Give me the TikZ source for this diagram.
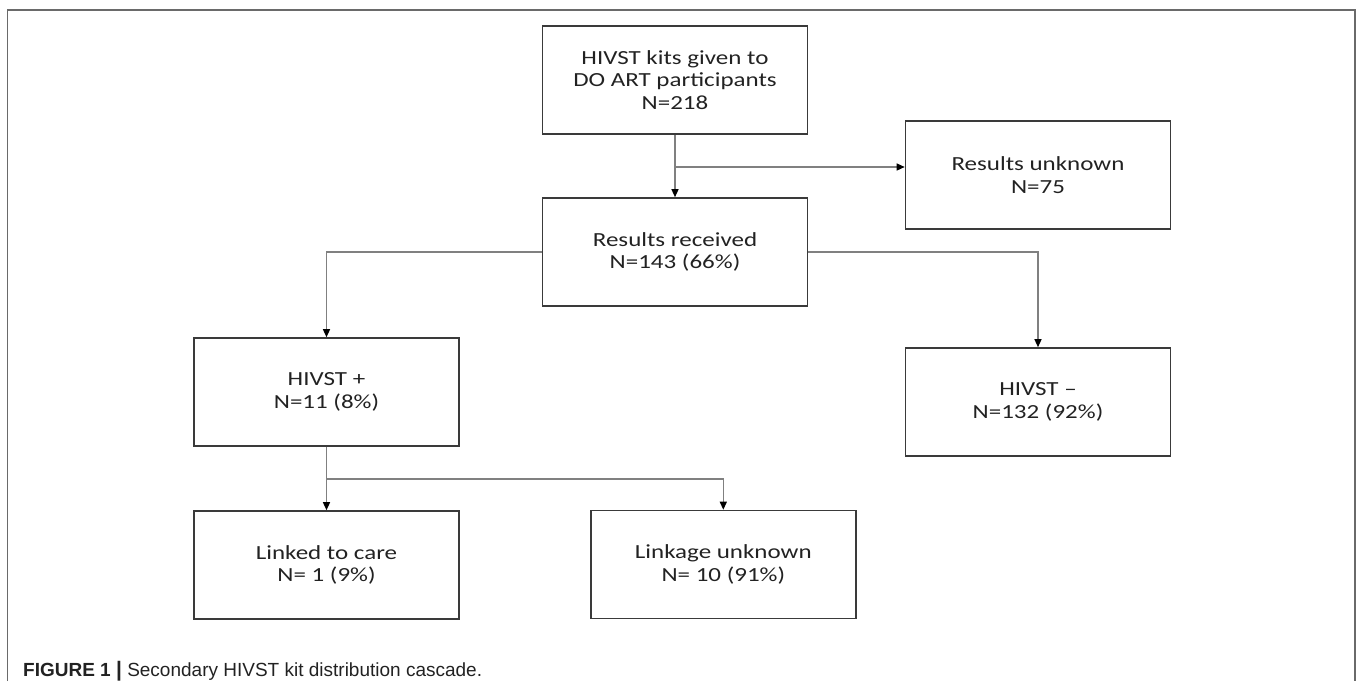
\documentclass[tikz,border=0pt]{standalone}
\usepackage{fontspec}
\setmainfont{Carlito}
\newfontfamily\boxfont[FakeStretch=1.25]{Carlito}
\newfontfamily\capfont{Liberation Sans}
\usetikzlibrary{arrows.meta}
\definecolor{boxline}{HTML}{3A3A3A}
\definecolor{conn}{HTML}{808080}
\definecolor{frame}{HTML}{6A6A6A}
\definecolor{txt}{HTML}{222222}
\begin{document}
\begin{tikzpicture}[x=1pt,y=-1pt,
  flowbox/.style={draw=boxline,line width=1.6pt,rectangle,minimum width=265pt,minimum height=108pt,
    align=center,inner sep=0pt,text=txt,font=\boxfont\fontsize{20}{22.8}\selectfont},
  conn/.style={draw=conn,line width=1.3pt,-{Triangle[length=8pt,width=7pt,fill=black,color=black]}}]
\useasboundingbox (0,0) rectangle (1358,681);
\draw[frame,line width=1.6pt] (7.6,681) -- (7.6,10) -- (1355,10) -- (1355,681);
\node[flowbox] (kits) at (675,80) {HIVST kits given to\\DO ART participants\\N=218};
\node[flowbox] (runk) at (1038,175) {Results unknown\\N=75};
\node[flowbox] (recv) at (675,252) {Results received\\N=143 (66\%)};
\node[flowbox] (hpos) at (326.5,392) {HIVST +\\N=11 (8\%)};
\node[flowbox] (hneg) at (1038,402) {HIVST –\\N=132 (92\%)};
\node[flowbox] (link) at (326.5,565) {Linked to care\\N= 1 (9\%)};
\node[flowbox] (lunk) at (723.3,564.5) {Linkage unknown\\N= 10 (91\%)};
\coordinate (b1) at (675,167);
\coordinate (b2) at (326.5,479);
\draw[conn] (kits.south) -- (recv.north);
\draw[conn] (b1) -- (b1 -| runk.west);
\draw[conn] (recv.west) -| (hpos.north);
\draw[conn] (recv.east) -| (hneg.north);
\draw[conn] (hpos.south) -- (link.north);
\draw[conn] (b2) -| (lunk.north);
\node[anchor=base west,inner sep=0pt,text=txt,font=\capfont\fontsize{19}{21}\selectfont] (cap) at (23,676)
  {\textbf{FIGURE 1 {\fontsize{21}{21}\selectfont|}} Secondary HIVST kit distribution cascade.};
\end{tikzpicture}
\end{document}
